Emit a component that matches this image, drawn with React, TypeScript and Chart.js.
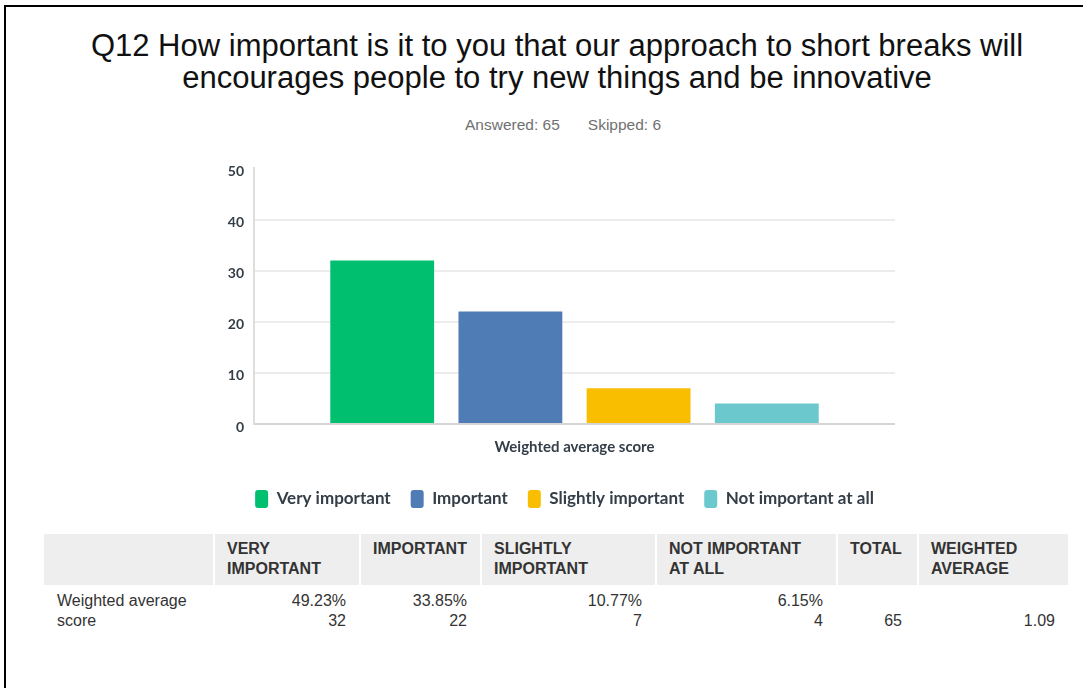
import React, { useEffect, useRef } from "react";
import { Chart, registerables } from "chart.js";

Chart.register(...registerables);

// ---- data ----
const titleLines = [
  "Q12 How important is it to you that our approach to short breaks will",
  "encourages people to try new things and be innovative",
];
const answered = 65;
const skipped = 6;

const categories = ["Weighted average score"];
const seriesNames = ["Very important", "Important", "Slightly important", "Not important at all"];
const seriesValues = [32, 22, 7, 4];
const seriesColors = ["#00bf6f", "#507cb6", "#f9be00", "#6bc8cd"];
const yTickValues = [0, 10, 20, 30, 40, 50];

const tableHeaderLines = [
  ["VERY", "IMPORTANT"],
  ["IMPORTANT"],
  ["SLIGHTLY", "IMPORTANT"],
  ["NOT IMPORTANT", "AT ALL"],
  ["TOTAL"],
  ["WEIGHTED", "AVERAGE"],
];
const tablePercents = ["49.23%", "33.85%", "10.77%", "6.15%"];
const tableCounts = [32, 22, 7, 4];
const tableTotal = 65;
const tableWeightedAverage = "1.09";

const colWidths = [169, 144, 119, 173, 179, 79, 149];

const SM_TEXT = "#333e48";
const UI_FONT = "Lato, 'Open Sans', sans-serif";
const ARIAL = "'Liberation Sans', Arial, Helvetica, sans-serif";

// shifts the (full-width) legend so it is centred like the original
const legendShift = {
  id: "legendShift",
  afterLayout(chart: any) {
    const lg = chart.legend;
    if (lg) {
      lg.left += 17;
      lg.right += 17;
    }
  },
};

function BarChart() {
  const ref = useRef<HTMLCanvasElement | null>(null);
  useEffect(() => {
    if (!ref.current) return;
    const chart = new Chart(ref.current, {
      type: "bar",
      data: {
        labels: categories,
        datasets: seriesNames.map((name, i) => ({
          label: name,
          data: [seriesValues[i]],
          backgroundColor: seriesColors[i],
          borderWidth: 0,
          categoryPercentage: 0.8,
          barPercentage: 0.81,
        })),
      },
      options: {
        responsive: false,
        animation: false,
        layout: { padding: { left: 200, right: 188, top: 17, bottom: 12 } },
        plugins: {
          tooltip: { enabled: false },
          title: { display: false },
          legend: {
            display: true,
            position: "bottom",
            labels: {
              boxWidth: 13,
              boxHeight: 18,
              padding: 20,
              useBorderRadius: true,
              borderRadius: 3,
              color: SM_TEXT,
              font: { family: UI_FONT, size: 17, weight: "bold" },
            },
          },
        },
        scales: {
          x: {
            grid: { display: false, drawTicks: false },
            border: { display: false },
            ticks: {
              color: SM_TEXT,
              padding: 14,
              font: { family: UI_FONT, size: 15, weight: "bold" },
            },
            afterFit: (scale: any) => {
              scale.height = 46;
            },
          },
          y: {
            min: yTickValues[0],
            max: yTickValues[yTickValues.length - 1],
            afterBuildTicks: (scale: any) => {
              scale.ticks = yTickValues.map((v) => ({ value: v }));
            },
            grid: {
              drawTicks: false,
              color: (ctx: any) =>
                ctx.tick && ctx.tick.value === 0
                  ? "#d4d4d4"
                  : ctx.tick && ctx.tick.value === 50
                  ? "rgba(0,0,0,0)"
                  : "#ececec",
              lineWidth: 2,
            },
            border: { display: true, color: "#dedede", width: 2 },
            ticks: {
              color: SM_TEXT,
              padding: 10,
              labelOffset: 3,
              font: { family: UI_FONT, size: 14, weight: "bold" },
            },
            afterFit: (scale: any) => {
              scale.width = 54;
            },
          },
        },
      } as any,
      plugins: [legendShift],
    });
    return () => chart.destroy();
  }, []);
  return (
    <canvas
      ref={ref}
      width={1083}
      height={380}
      style={{ position: "absolute", left: 0, top: 150, width: 1083, height: 380 }}
    />
  );
}

export default function App() {
  return (
    <div
      style={{
        position: "absolute",
        left: 0,
        top: 0,
        width: 1083,
        height: 688,
        overflow: "hidden",
        background: "#ffffff",
        fontFamily: ARIAL,
      }}
    >
      {/* frame */}
      <div
        style={{
          position: "absolute",
          left: 4,
          top: 5,
          width: 1079,
          height: 683,
          borderTop: "2px solid #000",
          borderLeft: "2px solid #000",
          boxSizing: "border-box",
        }}
      />
      {/* title */}
      <div
        style={{
          position: "absolute",
          left: 57,
          top: 30,
          width: 1000,
          textAlign: "center",
          fontSize: 31,
          lineHeight: "32px",
          color: "#111",
          whiteSpace: "nowrap",
        }}
      >
        {titleLines.map((t, i) => (
          <div key={i}>{t}</div>
        ))}
      </div>
      {/* subtitle */}
      <div
        style={{
          position: "absolute",
          left: 465,
          top: 116,
          fontSize: 15.5,
          lineHeight: "18px",
          color: "#707070",
          whiteSpace: "nowrap",
        }}
      >
        <span>Answered: {answered}</span>
        <span style={{ marginLeft: 28 }}>Skipped: {skipped}</span>
      </div>

      <BarChart />

      {/* table */}
      <table
        style={{
          position: "absolute",
          left: 42,
          top: 534,
          width: 1028,
          borderCollapse: "separate",
          borderSpacing: "2px 0",
          tableLayout: "fixed",
          fontFamily: ARIAL,
          fontSize: 16,
          lineHeight: "20px",
          color: "#333",
        }}
      >
        <colgroup>
          {colWidths.map((w, i) => (
            <col key={i} style={{ width: w }} />
          ))}
        </colgroup>
        <thead>
          <tr>
            <th style={{ background: "#eeeeee", padding: "5px 13px 6px 13px" }} />
            {tableHeaderLines.map((lines, i) => (
              <th
                key={i}
                style={{
                  background: "#eeeeee",
                  padding: "5px 12px 6px 12px",
                  textAlign: "left",
                  verticalAlign: "top",
                  fontWeight: "bold",
                  whiteSpace: "nowrap",
                }}
              >
                {lines.map((l, j) => (
                  <div key={j}>{l}</div>
                ))}
              </th>
            ))}
          </tr>
        </thead>
        <tbody>
          <tr>
            <td style={{ padding: "6px 13px 0 13px", textAlign: "left", verticalAlign: "top" }}>
              {categories[0]}
            </td>
            {tablePercents.map((p, i) => (
              <td
                key={i}
                style={{ padding: "6px 13px 0 13px", textAlign: "right", verticalAlign: "top" }}
              >
                <div>{p}</div>
                <div>{tableCounts[i]}</div>
              </td>
            ))}
            <td style={{ padding: "6px 15px 0 13px", textAlign: "right", verticalAlign: "top" }}>
              <div>&nbsp;</div>
              <div>{tableTotal}</div>
            </td>
            <td style={{ padding: "6px 13px 0 13px", textAlign: "right", verticalAlign: "top" }}>
              <div>&nbsp;</div>
              <div>{tableWeightedAverage}</div>
            </td>
          </tr>
        </tbody>
      </table>
    </div>
  );
}
